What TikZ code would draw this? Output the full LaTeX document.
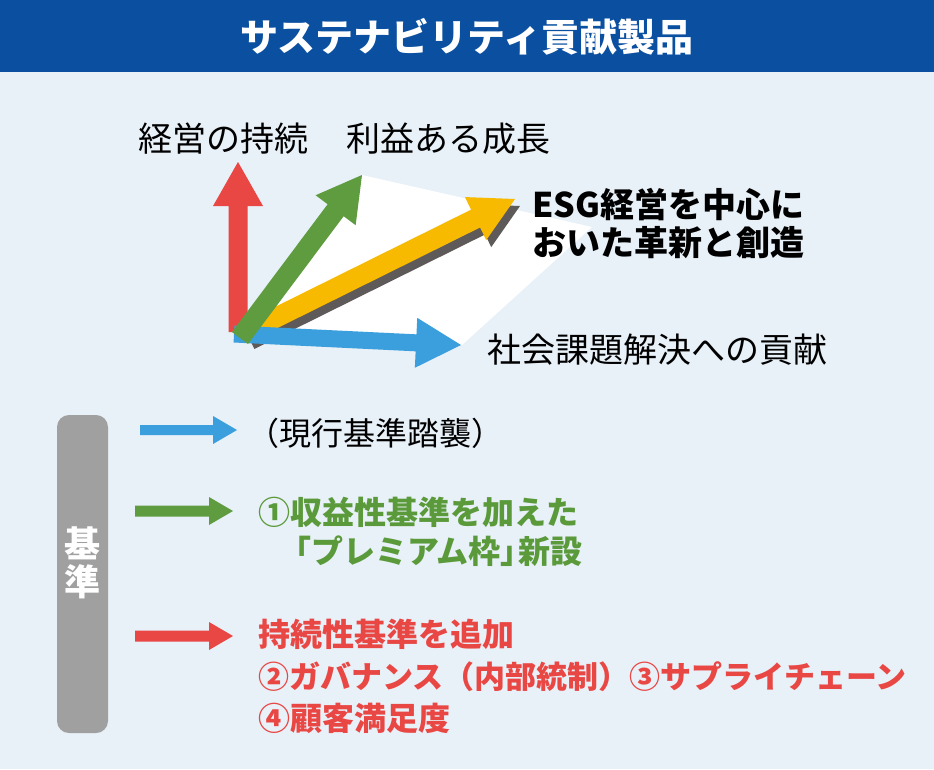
\documentclass[tikz,border=0pt]{standalone}
\usepackage{fontspec}
\setmainfont{Noto Sans CJK JP}
\usetikzlibrary{calc}
\definecolor{hdr}{HTML}{0A4FA0}
\definecolor{bgc}{HTML}{E8F0F8}
\definecolor{cred}{HTML}{E94744}
\definecolor{cgreen}{HTML}{5E9C3F}
\definecolor{tgreen}{HTML}{5A9A3A}
\definecolor{cyellow}{HTML}{F7BA00}
\definecolor{cblue}{HTML}{3A9FDC}
\definecolor{cshadow}{HTML}{5F5A5A}
\definecolor{cgray}{HTML}{A0A0A0}
\newcommand{\fatarrow}[6]{%
  \path ($(#2)!#5!(#1)$) coordinate (hb);
  \fill[#6] ($(#1)!#3!90:(#2)$) -- ($(hb)!#3!-90:(#1)$) -- ($(hb)!#4!-90:(#1)$) -- (#2)
    -- ($(hb)!#4!90:(#1)$) -- ($(hb)!#3!90:(#1)$) -- ($(#1)!#3!-90:(#2)$) -- cycle;}
\tikzset{
  txt/.style={inner sep=0pt, outer sep=0pt},
  big/.style={txt, font=\fontsize{34}{40}\selectfont},
  bigb/.style={txt, font=\fontsize{34}{40}\selectfont\bfseries},
  leg/.style={txt, anchor=west, font=\fontsize{32}{38}\selectfont\bfseries},
}
\begin{document}
\begin{tikzpicture}[x=1pt,y=-1pt]
\useasboundingbox (0,0) rectangle (934,769);
\fill[bgc] (0,0) rectangle (934,769);
\fill[hdr] (0,0) rectangle (934,72);
\node[txt, text=white, font=\fontsize{38}{44}\selectfont\bfseries] (title) at (467,37) {サステナビリティ貢献製品};

% white parallelogram
\coordinate (pO) at (240,336);
\coordinate (pG) at (362,175);
\coordinate (pC) at (592,227);
\coordinate (pB) at (462,345);
\fill[white] (pO) -- (pG) -- (pC) -- (pB) -- cycle;

% vector arrows
\coordinate (rS) at (238,332); \coordinate (rE) at (238,162);
\coordinate (sS) at (250,340); \coordinate (sE) at (520,206);
\coordinate (yS) at (245,333); \coordinate (yE) at (515,199);
\coordinate (bS) at (234,334); \coordinate (bE) at (461,345);
\coordinate (gS) at (240,338); \coordinate (gE) at (362,175);
\fatarrow{rS}{rE}{9.5pt}{25pt}{44pt}{cred}
\fatarrow{sS}{sE}{10pt}{24pt}{44pt}{cshadow}
\fatarrow{yS}{yE}{10pt}{24pt}{44pt}{cyellow}
\fatarrow{bS}{bE}{8.5pt}{25pt}{45pt}{cblue}
\fatarrow{gS}{gE}{10pt}{25pt}{44pt}{cgreen}

% labels
\node[big] (l1) at (223,139) {経営の持続};
\node[big] (l2) at (448,139) {利益ある成長};
\node[bigb, anchor=west] (l3a) at (532,205) {ESG経営を中心に};
\node[bigb, anchor=west] (l3b) at (532,243) {おいた革新と創造};
\node[big] (l4) at (657,350) {社会課題解決への貢献};

% criteria bar
\fill[cgray, rounded corners=12pt] (57,415) rectangle (108,733);
\node[txt, text=white, font=\fontsize{36}{40}\selectfont\bfseries] (k1) at (82,543) {基};
\node[txt, text=white, font=\fontsize{36}{40}\selectfont\bfseries] (k2) at (82,582) {準};

% legend arrows
\coordinate (abS) at (140,430); \coordinate (abE) at (237,430);
\coordinate (agS) at (135,511); \coordinate (agE) at (233,511);
\coordinate (arS) at (135,636); \coordinate (arE) at (233,636);
\fatarrow{abS}{abE}{5pt}{14pt}{24pt}{cblue}
\fatarrow{agS}{agE}{5.5pt}{14pt}{24pt}{cgreen}
\fatarrow{arS}{arE}{5.5pt}{14pt}{24pt}{cred}

% legend texts
\node[txt, anchor=west, font=\fontsize{32}{38}\selectfont] (t0) at (247,433) {（現行基準踏襲）};
\node[leg, text=tgreen] (g1) at (258,512) {①収益性基準を加えた};
\node[leg, text=tgreen] (g2) at (279,551) {「プレミアム枠」\hspace{-0.45em}新設};
\node[leg, text=cred] (r1) at (258,634) {持続性基準を追加};
\node[leg, text=cred, font=\fontsize{31}{36}\selectfont\bfseries] (r2) at (258,677) {②ガバナンス（内部統制）③サプライチェーン};
\node[leg, text=cred] (r3) at (258,718) {④顧客満足度};
\end{tikzpicture}
\end{document}
